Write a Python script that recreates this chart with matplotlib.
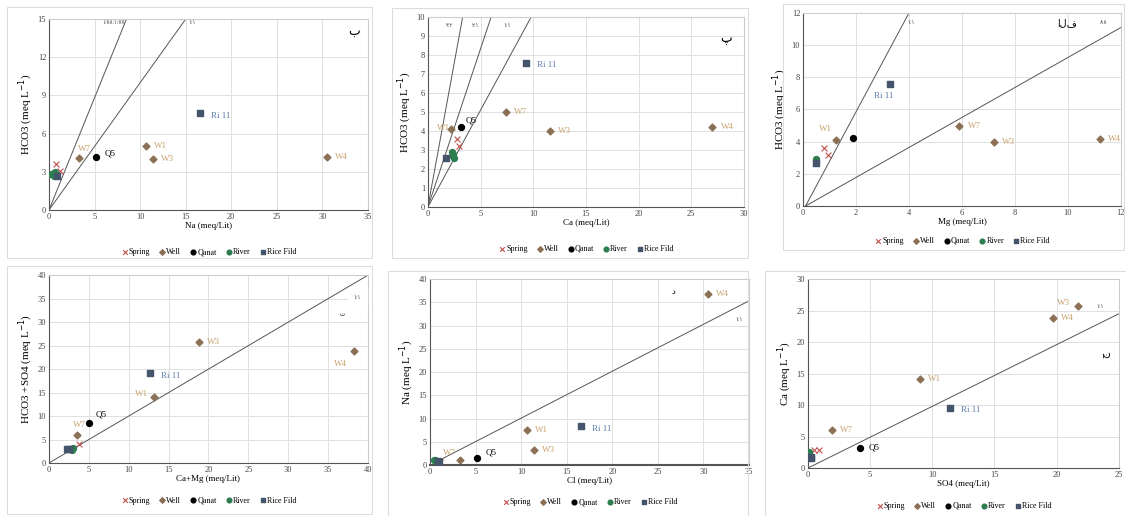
import matplotlib.pyplot as plt
from matplotlib.patches import Rectangle

plt.rcParams['font.family'] = ['Liberation Serif', 'DejaVu Sans']

# colours
c_spring = '#c0504d'
c_well = '#8c7055'
c_well_lbl = '#c8a26e'
c_qanat = '#000000'
c_river = '#2e7d4f'
c_rice = '#44546a'
c_rice_lbl = '#5b7ca8'

# ---- panel 1: Na vs HCO3
na_spring_x = [0.8, 1.2]
na_spring_y = [3.6, 3.1]
na_well_x = [3.3, 10.6, 11.4, 30.5]
na_well_y = [4.1, 5.0, 4.0, 4.15]
na_well_lbl = ['W7', 'W1', 'W3', 'W4']
na_qanat_x = [5.2]
na_qanat_y = [4.2]
na_river_x = [0.2, 0.5, 0.7, 0.6]
na_river_y = [2.8, 2.9, 3.0, 2.7]
na_rice_x = [0.9, 16.6]
na_rice_y = [2.7, 7.6]

# ---- panel 2: Ca vs HCO3
ca_spring_x = [2.8, 3.0]
ca_spring_y = [3.6, 3.2]
ca_well_x = [2.2, 7.4, 11.6, 27.0]
ca_well_y = [4.1, 5.0, 4.0, 4.2]
ca_well_lbl = ['W1', 'W7', 'W3', 'W4']
ca_qanat_x = [3.1]
ca_qanat_y = [4.2]
ca_river_x = [2.3, 2.4, 2.5, 2.4]
ca_river_y = [2.9, 2.8, 2.6, 2.7]
ca_rice_x = [1.7, 9.3]
ca_rice_y = [2.6, 7.6]

# ---- panel 3: Mg vs HCO3
mg_spring_x = [0.8, 0.95]
mg_spring_y = [3.6, 3.2]
mg_well_x = [1.25, 5.9, 7.2, 11.2]
mg_well_y = [4.1, 5.0, 4.0, 4.15]
mg_well_lbl = ['W1', 'W7', 'W3', 'W4']
mg_qanat_x = [1.9]
mg_qanat_y = [4.2]
mg_river_x = [0.5, 0.5]
mg_river_y = [2.9, 2.8]
mg_rice_x = [0.5, 3.3]
mg_rice_y = [2.65, 7.6]

# ---- panel 4: Ca+Mg vs HCO3+SO4
cm_spring_x = [3.8]
cm_spring_y = [4.0]
cm_well_x = [3.5, 13.2, 18.8, 38.2]
cm_well_y = [6.0, 14.0, 25.7, 23.8]
cm_well_lbl = ['W7', 'W1', 'W3', 'W4']
cm_qanat_x = [5.0]
cm_qanat_y = [8.5]
cm_river_x = [2.8, 3.0, 2.9]
cm_river_y = [3.0, 3.3, 2.8]
cm_rice_x = [2.2, 2.5, 12.7]
cm_rice_y = [3.0, 3.0, 19.1]

# ---- panel 5: Cl vs Na
cl_spring_x = [1.0, 1.1]
cl_spring_y = [0.5, 0.6]
cl_well_x = [3.3, 10.6, 11.4, 30.5]
cl_well_y = [1.1, 7.6, 3.2, 36.8]
cl_well_lbl = ['W7', 'W1', 'W3', 'W4']
cl_qanat_x = [5.2]
cl_qanat_y = [1.5]
cl_river_x = [0.4, 0.6, 0.7]
cl_river_y = [1.0, 1.0, 0.9]
cl_rice_x = [0.9, 1.0, 16.6]
cl_rice_y = [0.8, 0.7, 8.3]

# ---- panel 6: SO4 vs Ca
so_spring_x = [0.5, 0.9]
so_spring_y = [2.9, 2.9]
so_well_x = [1.9, 9.0, 21.7, 19.7]
so_well_y = [6.0, 14.1, 25.7, 23.8]
so_well_lbl = ['W7', 'W1', 'W3', 'W4']
so_qanat_x = [4.2]
so_qanat_y = [3.2]
so_river_x = [0.05, 0.1]
so_river_y = [2.5, 2.4]
so_rice_x = [0.25, 0.2, 11.4]
so_rice_y = [1.8, 1.6, 9.6]

fig = plt.figure(figsize=(11.26, 5.16), dpi=100)

# panel frames (pixel boxes: x0, y0, x1, y1 from top-left)
frames = [(7, 7, 372, 258), (392, 8, 748, 258), (783, 4, 1124, 250),
          (7, 266, 372, 514), (388, 271, 748, 516), (765, 271, 1126, 516)]
for x0, y0, x1, y1 in frames:
    fig.patches.append(Rectangle((x0 / 1126, 1 - y1 / 516), (x1 - x0) / 1126,
                                 (y1 - y0) / 516, transform=fig.transFigure,
                                 fill=False, edgecolor='#dddddd', lw=0.8))


def panel(rect, sx, sy, wx, wy, wl, qx, qy, rx, ry, bx, by,
          xmax, ymax, xstep, ystep, xlabel, ylabel, leg_y,
          wl_off, q_lbl=True, q_off=(6, 2), ri_off=(8, -2)):
    ax = fig.add_axes(rect)
    ax.scatter(sx, sy, marker='x', s=18, color=c_spring, lw=0.8, label='Spring', zorder=3)
    ax.scatter(wx, wy, marker='D', s=12, color=c_well, label='Well', zorder=3)
    ax.scatter(qx, qy, marker='o', s=18, color=c_qanat, label='Qanat', zorder=3)
    ax.scatter(rx, ry, marker='o', s=18, color=c_river, label='River', zorder=3)
    ax.scatter(bx, by, marker='s', s=18, color=c_rice, label='Rice Fild', zorder=3)
    for x, y, t, off in zip(wx, wy, wl, wl_off):
        ax.annotate(t, (x, y), xytext=off, textcoords='offset points',
                    fontsize=6.5, color=c_well_lbl, va='center')
    if q_lbl:
        ax.annotate('Q5', (qx[0], qy[0]), xytext=q_off, textcoords='offset points',
                    fontsize=6.5, color='black', va='center')
    ax.annotate('Ri 11', (bx[-1], by[-1]), xytext=ri_off, textcoords='offset points',
                fontsize=6.5, color=c_rice_lbl, va='center')
    ax.set_xlim(0, xmax)
    ax.set_ylim(0, ymax)
    ax.set_xticks(range(0, xmax + 1, xstep))
    ax.set_yticks(range(0, ymax + 1, ystep))
    ax.grid(True, color='#e0e0e0', lw=0.7)
    ax.set_axisbelow(True)
    ax.tick_params(labelsize=6, length=0, colors='#444444', pad=2)
    for s in ['left', 'bottom']:
        ax.spines[s].set_color('#555555')
    for s in ['top', 'right']:
        ax.spines[s].set_color('#cccccc')
    ax.set_xlabel(xlabel, fontsize=6.5, labelpad=1)
    ax.set_ylabel(ylabel, fontsize=8, labelpad=2)
    ax.legend(loc='center', bbox_to_anchor=(0.5, leg_y), ncol=5, frameon=False,
              fontsize=5.8, handletextpad=0.0, columnspacing=1.0, markerscale=0.8,
              handlelength=1.0)
    return ax


ylab_hco3 = r'HCO3 (meq L$^{-1}$)'

a1 = panel([0.0435, 0.593, 0.2833, 0.370], na_spring_x, na_spring_y, na_well_x, na_well_y,
           na_well_lbl, na_qanat_x, na_qanat_y, na_river_x, na_river_y, na_rice_x, na_rice_y,
           35, 15, 5, 3, 'Na (meq/Lit)', ylab_hco3, -0.22,
           [(-1, 6), (6, 0), (6, 0), (6, 0)])
a1.plot([0, 8.5], [0, 15], color='#555555', lw=0.7)
a1.plot([0, 15], [0, 15], color='#555555', lw=0.7)
a1.text(8.3, 14.6, '۱/۸۸:۱/۸۷', fontsize=4, ha='right', color='#444444')
a1.text(15.3, 14.6, '۱:۱', fontsize=4, color='#444444')
a1.text(32.8, 13.8, 'ب', fontsize=9)

a2 = panel([0.380, 0.5988, 0.2806, 0.368], ca_spring_x, ca_spring_y, ca_well_x, ca_well_y,
           ca_well_lbl, ca_qanat_x, ca_qanat_y, ca_river_x, ca_river_y, ca_rice_x, ca_rice_y,
           30, 10, 5, 1, 'Ca (meq/Lit)', ylab_hco3, -0.22,
           [(-10, 1), (6, 0), (6, 0), (6, 0)], q_off=(4, 5))
for xe in [3.3, 6.0, 9.8]:
    a2.plot([0, xe], [0, 10], color='#555555', lw=0.7)
a2.text(1.7, 9.5, '۳:۲', fontsize=4, color='#444444')
a2.text(4.2, 9.5, '۲:۱', fontsize=4, color='#444444')
a2.text(7.2, 9.5, '۱:۱', fontsize=4, color='#444444')
a2.text(27.8, 8.7, 'پ', fontsize=9)

a3 = panel([0.7131, 0.6008, 0.2824, 0.374], mg_spring_x, mg_spring_y, mg_well_x, mg_well_y,
           mg_well_lbl, mg_qanat_x, mg_qanat_y, mg_river_x, mg_river_y, mg_rice_x, mg_rice_y,
           12, 12, 2, 2, 'Mg (meq/Lit)', ylab_hco3, -0.18,
           [(-12, 8), (6, 0), (6, 0), (6, 0)], q_lbl=False, ri_off=(-12, -9))
a3.plot([0.1, 4.0], [0, 12], color='#555555', lw=0.7)
a3.plot([0.1, 12], [0, 11.1], color='#555555', lw=0.7)
a3.text(3.95, 11.3, '۱:۱', fontsize=4, color='#444444')
a3.text(11.2, 11.3, '۸:۸', fontsize=4, color='#444444')
a3.text(9.6, 11.2, 'الف', fontsize=7)

a4 = panel([0.0435, 0.1027, 0.2833, 0.364], cm_spring_x, cm_spring_y, cm_well_x, cm_well_y,
           cm_well_lbl, cm_qanat_x, cm_qanat_y, cm_river_x, cm_river_y, cm_rice_x, cm_rice_y,
           40, 40, 5, 5, 'Ca+Mg (meq/Lit)', r'HCO3 +SO4 (meq L$^{-1}$)', -0.2,
           [(-3, 7), (-14, 2), (6, 0), (-14, -9)], q_off=(5, 6))
a4.plot([0, 40], [0, 40], color='#555555', lw=0.7)
a4.text(38.2, 35.0, '۱:۱', fontsize=4, color='#444444', backgroundcolor='white')
a4.text(36.5, 31.3, 'ت', fontsize=4)

a5 = panel([0.3819, 0.0988, 0.2833, 0.3605], cl_spring_x, cl_spring_y, cl_well_x, cl_well_y,
           cl_well_lbl, cl_qanat_x, cl_qanat_y, cl_river_x, cl_river_y, cl_rice_x, cl_rice_y,
           35, 40, 5, 5, 'Cl (meq/Lit)', r'Na (meq L$^{-1}$)', -0.2,
           [(-12, 5), (6, 0), (6, 0), (6, 0)], q_off=(6, 4))
a5.spines['bottom'].set_linewidth(1.5)
a5.plot([0.7, 35], [0.7, 35.3], color='#555555', lw=0.7)
a5.text(33.5, 31.0, '۱:۱', fontsize=4, color='#444444')
a5.text(26.5, 36.8, 'د', fontsize=6, backgroundcolor='white')

a6 = panel([0.7176, 0.093, 0.2760, 0.366], so_spring_x, so_spring_y, so_well_x, so_well_y,
           so_well_lbl, so_qanat_x, so_qanat_y, so_river_x, so_river_y, so_rice_x, so_rice_y,
           25, 30, 5, 5, 'SO4 (meq/Lit)', r'Ca (meq L$^{-1}$)', -0.2,
           [(6, 0), (6, 0), (-15, 2), (6, 0)], q_off=(6, 0))
a6.plot([0, 25], [0, 24.5], color='#555555', lw=0.7)
a6.text(23.2, 25.4, '۱:۱', fontsize=4, color='#444444')
a6.text(23.6, 18.0, 'ج', fontsize=7, rotation=90)

fig.savefig('out.png', dpi=100)
